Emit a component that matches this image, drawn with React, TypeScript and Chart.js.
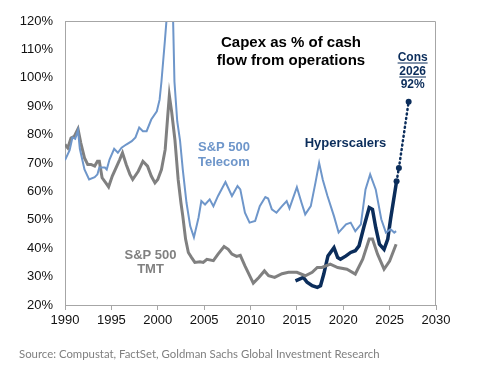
import React, { useEffect, useRef } from "react";
import { Chart, registerables } from "chart.js";

Chart.register(...registerables);

const yTicks = [20, 30, 40, 50, 60, 70, 80, 90, 100, 110, 120];
const xTicks = [1990, 1995, 2000, 2005, 2010, 2015, 2020, 2025, 2030];

const telecomYears = [
  1990.0, 1990.5, 1990.8, 1991.1, 1991.4, 1991.6, 1992.1, 1992.6, 1993.2, 1993.5, 1993.7, 1994.3, 1994.5, 1994.8,
  1995.3, 1995.7, 1996.1, 1996.6, 1997.2, 1997.6, 1998.0, 1998.4, 1998.8, 1999.3, 1999.9, 2000.2, 2000.4, 2000.76,
  2000.95, 2001.3, 2001.65, 2001.8, 2002.1, 2002.4, 2002.7, 2003.1, 2003.5, 2003.9, 2004.4, 2004.7, 2005.1, 2005.6,
  2006.0, 2006.5, 2007.3, 2008.0, 2008.6, 2008.9, 2009.4, 2009.9, 2010.5, 2011.0, 2011.6, 2011.9, 2012.3, 2012.8,
  2013.4, 2013.9, 2014.2, 2015.0, 2015.5, 2015.9, 2016.5, 2017.0, 2017.4, 2017.8, 2018.3, 2019.0, 2019.5, 2020.3,
  2020.8, 2021.3, 2021.9, 2022.4, 2022.9, 2023.5, 2024.1, 2024.6, 2025.1, 2025.5, 2025.7,
];
const telecomValues = [
  71, 74.5, 79, 78.5, 81.5, 75, 67.7, 64.2, 65, 66, 68.4, 68.4, 67.7, 71.2,
  75, 73.6, 75.4, 76.5, 77.7, 79, 82.5, 81.2, 81.2, 85.3, 88.2, 92.3, 98.7, 112.7,
  120.5, 135, 121, 98.7, 84.7, 78, 67.7, 56, 47.8, 43.8, 50.8, 56.6, 55.4, 57.2,
  54.8, 58.4, 63.3, 58.4, 61.9, 60.7, 52.5, 49, 49.6, 54.8, 58, 57.5, 53.7, 52.5,
  54.8, 56.6, 54, 61.5, 56, 51.9, 54.8, 63, 70, 64, 58.4, 51.3, 45.5, 48.4,
  49, 46, 48.4, 60.7, 66, 60.7, 50.2, 45.5, 46.7, 45.5, 46,
];

const tmtYears = [
  1990.0, 1990.3, 1990.65, 1991.0, 1991.4, 1991.7, 1992.1, 1992.45, 1992.8, 1993.2, 1993.5, 1993.7, 1994.0, 1994.4,
  1994.7, 1995.1, 1995.5, 1995.9, 1996.2, 1996.6, 1997.0, 1997.3, 1997.9, 1998.4, 1998.9, 1999.3, 1999.7, 2000.0,
  2000.4, 2000.8, 2001.1, 2001.25, 2001.5, 2001.85, 2002.2, 2002.5, 2002.7, 2003.0, 2003.3, 2003.65, 2004.0, 2004.55,
  2004.9, 2005.3, 2006.0, 2006.5, 2007.15, 2007.6, 2008.0, 2008.5, 2008.9, 2009.4, 2010.0, 2010.3, 2010.9, 2011.5,
  2011.95, 2012.6, 2013.4, 2014.1, 2015.0, 2015.9, 2016.65, 2017.2, 2017.7, 2018.6, 2019.4, 2020.4, 2021.3, 2022.1,
  2022.8, 2023.15, 2023.7, 2024.4, 2025.0, 2025.7,
];
const tmtValues = [
  76.5, 75.3, 78.8, 79.4, 82, 77.1, 71.8, 69.5, 69.5, 68.9, 70.6, 70.6, 64.8, 63,
  61.6, 65.4, 68.3, 71.2, 73.6, 69.5, 66, 64.2, 67.1, 70.6, 68.9, 65.4, 63, 64.2,
  67.7, 74.7, 87.6, 93.8, 88, 78.2, 64.2, 56, 51.3, 43.2, 38.5, 36.7, 35, 35.2,
  35, 36.1, 35.6, 37.9, 40.6, 39.6, 37.9, 37.1, 37.5, 33.8, 29.7, 27.7, 29.7, 32,
  30.3, 29.7, 31, 31.5, 31.5, 30.3, 31.5, 33.2, 33.2, 34.4, 33.2, 32.6, 30.9, 36.1,
  43.2, 43.2, 37.9, 32.6, 35.5, 41.4,
];

const hyperYears = [
  2014.85, 2015.7, 2016.1, 2016.65, 2017.2, 2017.55, 2017.9, 2018.35, 2019.0, 2019.4, 2019.7, 2020.3, 2020.8, 2021.3,
  2021.7, 2022.25, 2022.8, 2023.15, 2023.5, 2023.9, 2024.4, 2024.8, 2025.1, 2025.75,
];
const hyperValues = [
  28.5, 29.7, 28, 26.8, 26.2, 26.8, 30.9, 37.3, 40.2, 36.7, 36.1, 37.3, 38.5, 39.1,
  40.8, 47.8, 54.3, 53.7, 47.3, 41.4, 39.6, 43.2, 50.2, 63.6,
];

const forecastYears = [2025.75, 2026.0, 2027.05];
const forecastValues = [63.6, 68.2, 91.6];

const toPoints = (xs: number[], ys: number[]) => xs.map((x, i) => ({ x, y: ys[i] }));

const NAVY = "#0B2D5B";
const BLUE = "#6E96CA";
const GRAY = "#808080";
const AXIS = "#A6A6A6";
const FONT = "'Liberation Sans', Arial, sans-serif";

const annotations = {
  id: "annotations",
  afterDraw(chart: any) {
    const { ctx, chartArea } = chart;
    const xs = chart.scales.x;
    const ys = chart.scales.y;
    ctx.save();
    // top and right border
    ctx.strokeStyle = AXIS;
    ctx.lineWidth = 1;
    ctx.beginPath();
    ctx.moveTo(Math.round(chartArea.left), Math.round(chartArea.top) + 0.5);
    ctx.lineTo(Math.round(chartArea.right) - 0.5, Math.round(chartArea.top) + 0.5);
    ctx.lineTo(Math.round(chartArea.right) - 0.5, Math.round(chartArea.bottom));
    ctx.stroke();

    ctx.textBaseline = "middle";
    // title
    ctx.fillStyle = "#000";
    ctx.textAlign = "center";
    ctx.font = `bold 15px ${FONT}`;
    ctx.fillText("Capex as % of cash", 291, 43);
    ctx.fillText("flow from operations", 291, 61);

    // Cons 2026 label
    const cx = xs.getPixelForValue(forecastYears[2]) + 4;
    ctx.fillStyle = NAVY;
    ctx.strokeStyle = NAVY;
    ctx.font = `bold 12px ${FONT}`;
    const consLines = ["Cons", "2026", "92%"];
    const consY = [57.5, 71.5, 85];
    consLines.forEach((t, i) => {
      ctx.fillText(t, cx, consY[i]);
      if (i < 2) {
        const w = ctx.measureText(t).width;
        ctx.lineWidth = 1;
        ctx.beginPath();
        ctx.moveTo(cx - w / 2, consY[i] + 5.5);
        ctx.lineTo(cx + w / 2, consY[i] + 5.5);
        ctx.stroke();
      }
    });

    // series labels
    ctx.font = `bold 13px ${FONT}`;
    ctx.fillStyle = NAVY;
    ctx.fillText("Hyperscalers", 345.5, 143.5);

    ctx.fillStyle = BLUE;
    ctx.textAlign = "left";
    ctx.fillText("S&P 500", 198, 147);
    ctx.fillText("Telecom", 198, 162);

    ctx.fillStyle = GRAY;
    ctx.textAlign = "center";
    ctx.fillText("S&P 500", 150.5, 255);
    ctx.fillText("TMT", 150.5, 269.5);

    // source
    ctx.textAlign = "left";
    ctx.textBaseline = "alphabetic";
    ctx.fillStyle = "#7F7F7F";
    const src = "Source: Compustat, FactSet, Goldman Sachs Global Investment Research";
    ctx.font = `12px Lato, 'Open Sans', sans-serif`;
    const w0 = ctx.measureText(src).width;
    const size = Math.max(9, Math.min(14, (12 * 361) / w0));
    ctx.font = `${size.toFixed(2)}px Lato, 'Open Sans', sans-serif`;
    ctx.fillText(src, 19, 358);
    ctx.restore();
  },
};

export default function App() {
  const ref = useRef<HTMLCanvasElement | null>(null);
  useEffect(() => {
    if (!ref.current) return;
    const chart = new Chart(ref.current, {
      type: "line",
      data: {
        datasets: [
          {
            label: "S&P 500 Telecom",
            data: toPoints(telecomYears, telecomValues),
            borderColor: BLUE,
            borderWidth: 2,
            pointRadius: 0,
            tension: 0,
            clip: 0,
          },
          {
            label: "S&P 500 TMT",
            data: toPoints(tmtYears, tmtValues),
            borderColor: GRAY,
            borderWidth: 3,
            pointRadius: 0,
            tension: 0,
            clip: 0,
          },
          {
            label: "Hyperscalers",
            data: toPoints(hyperYears, hyperValues),
            borderColor: NAVY,
            borderWidth: 3.5,
            pointRadius: 0,
            tension: 0,
            clip: 0,
          },
          {
            label: "Cons forecast",
            data: toPoints(forecastYears, forecastValues),
            borderColor: NAVY,
            backgroundColor: NAVY,
            borderWidth: 2.5,
            borderDash: [1, 3.5],
            borderCapStyle: "round",
            pointRadius: 3,
            pointBackgroundColor: NAVY,
            pointBorderWidth: 0,
            tension: 0,
            clip: 0,
          },
        ],
      },
      options: {
        responsive: false,
        animation: false,
        devicePixelRatio: 1,
        layout: { padding: { top: 21, right: 64, bottom: 0, left: 0 } },
        plugins: {
          legend: { display: false },
          tooltip: { enabled: false },
        },
        scales: {
          x: {
            type: "linear",
            min: 1990,
            max: 2030,
            afterFit: (s: any) => {
              s.height = 69;
            },
            afterBuildTicks: (s: any) => {
              s.ticks = xTicks.map((v) => ({ value: v }));
            },
            ticks: {
              color: "#111",
              font: { family: FONT, size: 13 },
              padding: 3,
              maxRotation: 0,
              autoSkip: false,
              callback: (v: any) => String(v),
            },
            grid: {
              display: true,
              drawOnChartArea: false,
              drawTicks: true,
              tickLength: 5,
              color: AXIS,
            },
            border: { display: true, color: AXIS, width: 1 },
          },
          y: {
            min: 20,
            max: 120,
            afterFit: (s: any) => {
              s.width = 65;
            },
            afterBuildTicks: (s: any) => {
              s.ticks = yTicks.map((v) => ({ value: v }));
            },
            ticks: {
              color: "#111",
              font: { family: FONT, size: 13 },
              padding: 12,
              autoSkip: false,
              callback: (v: any) => `${v}%`,
            },
            grid: { display: false, drawTicks: false },
            border: { display: true, color: AXIS, width: 1 },
          },
        },
      },
      plugins: [annotations],
    });
    return () => chart.destroy();
  }, []);

  return (
    <div style={{ position: "absolute", top: 0, left: 0, width: 500, height: 374, background: "#fff" }}>
      <canvas ref={ref} width={500} height={374} style={{ display: "block" }} />
    </div>
  );
}
